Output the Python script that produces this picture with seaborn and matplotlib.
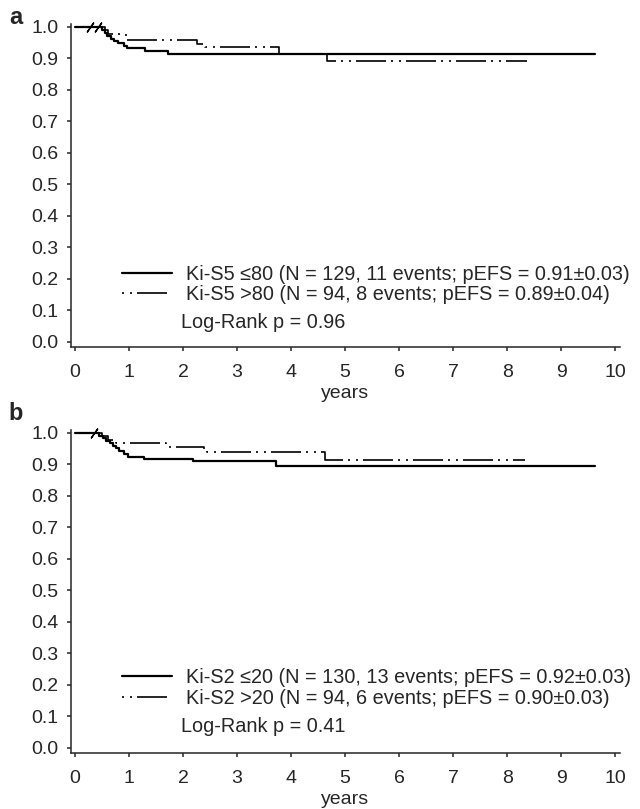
import pandas as pd
import seaborn as sns
import matplotlib.pyplot as plt

# panel a: Ki-S5
a_low_t = [0, 0.50, 0.55, 0.60, 0.66, 0.72, 0.80, 0.90, 0.97, 1.30, 1.73, 9.63]
a_low_s = [1.0, 0.990, 0.980, 0.970, 0.962, 0.955, 0.948, 0.940, 0.932, 0.925, 0.914, 0.914]
a_high_t = [0, 0.55, 0.62, 0.95, 2.25, 2.40, 3.78, 4.66, 8.36]
a_high_s = [1.0, 0.989, 0.978, 0.958, 0.947, 0.935, 0.913, 0.892, 0.892]
a_cens = [0.28, 0.42]

# panel b: Ki-S2
b_low_t = [0, 0.45, 0.52, 0.58, 0.64, 0.70, 0.76, 0.82, 0.90, 0.99, 1.27, 2.19, 3.73, 9.63]
b_low_s = [1.0, 0.992, 0.984, 0.976, 0.968, 0.960, 0.952, 0.944, 0.933, 0.924, 0.917, 0.910, 0.896, 0.896]
b_high_t = [0, 0.50, 0.62, 0.76, 1.68, 2.38, 2.45, 4.63, 8.33]
b_high_s = [1.0, 0.989, 0.978, 0.968, 0.957, 0.946, 0.940, 0.915, 0.915]
b_cens = [0.36]

labels_a = ['Ki-S5 \u226480 (N = 129, 11 events; pEFS = 0.91\u00b10.03)',
            'Ki-S5 >80 (N = 94, 8 events; pEFS = 0.89\u00b10.04)']
labels_b = ['Ki-S2 \u226420 (N = 130, 13 events; pEFS = 0.92\u00b10.03)',
            'Ki-S2 >20 (N = 94, 6 events; pEFS = 0.90\u00b10.03)']
pvals = ['Log-Rank p = 0.96', 'Log-Rank p = 0.41']
yticks = [0.0, 0.1, 0.2, 0.3, 0.4, 0.5, 0.6, 0.7, 0.8, 0.9, 1.0]
xticks = list(range(0, 11))

sns.set_style('ticks')
plt.rcParams['font.family'] = ['Liberation Sans', 'DejaVu Sans']
plt.rcParams['font.size'] = 14

DASH = (21, (18, 3, 1.2, 3.6, 1.2, 3))

fig = plt.figure(figsize=(6.4, 8.09), dpi=100)
ax_a = fig.add_axes([71/640, 1-347/809, 549/640, 323/809])
ax_b = fig.add_axes([71/640, 1-753/809, 549/640, 323/809])


def km_panel(ax, lo_t, lo_s, hi_t, hi_s, cens, labels, pval, leg_y, p_y):
    lo = pd.DataFrame({'years': lo_t, 'pefs': lo_s})
    hi = pd.DataFrame({'years': hi_t, 'pefs': hi_s})
    sns.lineplot(data=lo, x='years', y='pefs', ax=ax, color='black', lw=1.6,
                 drawstyle='steps-post', estimator=None, label=labels[0])
    sns.lineplot(data=hi, x='years', y='pefs', ax=ax, color='black', lw=1.2,
                 drawstyle='steps-post', estimator=None, linestyle=DASH,
                 label=labels[1])
    cdf = pd.DataFrame({'years': cens, 'pefs': [1.0] * len(cens)})
    sns.scatterplot(data=cdf, x='years', y='pefs', ax=ax, marker=(2, 2, -35),
                    s=60, color='black', linewidth=1, clip_on=False, legend=False)
    ax.set_xlim(-0.074, 10.09)
    ax.set_ylim(-0.016, 1.0095)
    ax.set_xticks(xticks)
    ax.set_yticks(yticks)
    ax.set_yticklabels([f'{v:.1f}' for v in yticks])
    ax.set_xlabel('years', labelpad=3)
    ax.set_ylabel('')
    sns.despine(ax=ax)
    for sp in ax.spines.values():
        sp.set_linewidth(1.1)
    ax.tick_params(axis='both', length=3, width=1.1, labelsize=14)
    ax.tick_params(axis='y', pad=6)
    ax.tick_params(axis='x', pad=9)
    ax.legend(loc='upper left', bbox_to_anchor=(0.093, leg_y), frameon=False,
              borderpad=0, borderaxespad=0, handlelength=2.5, handletextpad=0.7,
              labelspacing=0.08, fontsize=14.3)
    ax.text(0.2, p_y, pval, transform=ax.transAxes, va='center', fontsize=14.3)


km_panel(ax_a, a_low_t, a_low_s, a_high_t, a_high_s, a_cens, labels_a, pvals[0],
         0.255, 0.075)
km_panel(ax_b, b_low_t, b_low_s, b_high_t, b_high_s, b_cens, labels_b, pvals[1],
         0.262, 0.082)

fig.text(16/640, 1-17/809, 'a', fontsize=17, fontweight='bold', ha='center', va='center')
fig.text(16/640, 1-414/809, 'b', fontsize=17, fontweight='bold', ha='center', va='center')

fig.savefig('out.png', dpi=100)
